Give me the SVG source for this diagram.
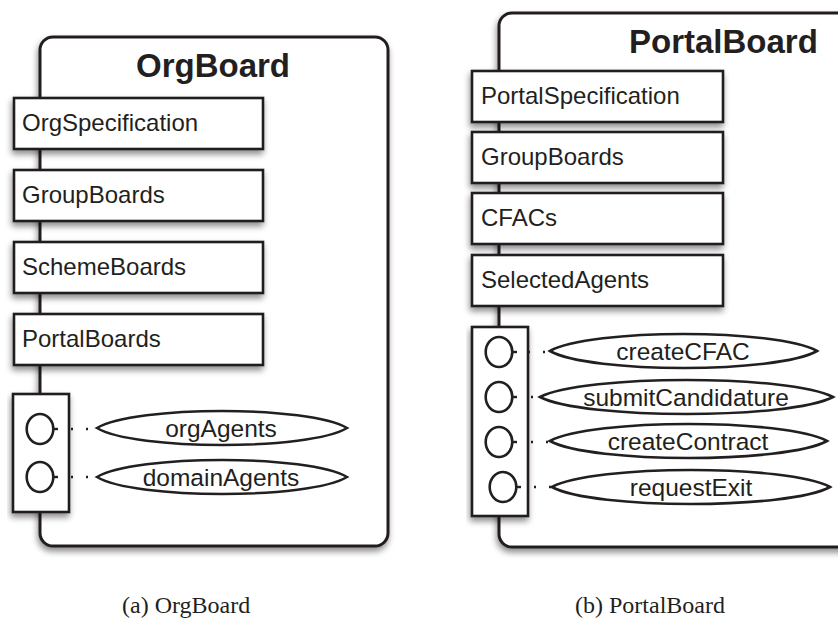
<svg xmlns="http://www.w3.org/2000/svg" width="838" height="631" viewBox="0 0 838 631">
<defs>
<filter id="sh" x="-10%" y="-10%" width="130%" height="140%">
<feDropShadow dx="-1" dy="4" stdDeviation="3" flood-color="#000" flood-opacity="0.45"/>
</filter>
<style>
.board{fill:#fff;stroke:#231f20;stroke-width:3;filter:url(#sh)}
.box{fill:#fff;stroke:#231f20;stroke-width:2.6;filter:url(#sh)}
.iface{fill:#fff;stroke:#231f20;stroke-width:2.6;filter:url(#sh)}
.port{fill:#fff;stroke:#231f20;stroke-width:2.6}
.tick{stroke:#231f20;stroke-width:2.4}
.op{fill:#fff;stroke:#231f20;stroke-width:2.6}
.title{font-family:"Liberation Sans",Arial,sans-serif;font-weight:bold;font-size:33px;fill:#231f20}
.lbl{font-family:"Liberation Sans",Arial,sans-serif;font-size:24px;fill:#231f20}
.olbl{font-family:"Liberation Sans",Arial,sans-serif;font-size:24.5px;fill:#231f20;text-anchor:middle}
.cap{font-family:"Liberation Serif","Times New Roman",serif;font-size:24px;fill:#231f20}
.dot{stroke:#231f20;stroke-width:2.4;stroke-dasharray:2 13;fill:none}
</style>
</defs>
<rect width="838" height="631" fill="#fff"/>

<g id="orgboard">
<rect class="board" x="40" y="37" width="348" height="509" rx="13"/>
<text class="title" x="213" y="77" text-anchor="middle">OrgBoard</text>
</g>
<g id="org-spec"><rect class="box" x="14" y="98" width="249" height="51"/><text class="lbl" x="22" y="131">OrgSpecification</text></g>
<g id="org-groupboards"><rect class="box" x="14" y="170" width="249" height="51"/><text class="lbl" x="22" y="203">GroupBoards</text></g>
<g id="org-schemeboards"><rect class="box" x="14" y="242" width="249" height="51"/><text class="lbl" x="22" y="275">SchemeBoards</text></g>
<g id="org-portalboards"><rect class="box" x="14" y="314" width="249" height="51"/><text class="lbl" x="22" y="347">PortalBoards</text></g>
<g id="org-interface">
<rect class="iface" x="13" y="394" width="56" height="118"/>
<ellipse class="port" cx="40" cy="429" rx="13.3" ry="15"/>
<line class="tick" x1="53" y1="429" x2="58" y2="429"/>
<ellipse class="port" cx="40" cy="477" rx="13.3" ry="15"/>
<line class="tick" x1="53" y1="477" x2="58" y2="477"/>
</g>
<g id="op-orgAgents"><path class="op" d="M97,428 C134.5,405.4 309.5,405.4 347,428 C309.5,450.6 134.5,450.6 97,428Z"/><text class="olbl" x="221" y="437">orgAgents</text></g>
<g id="op-domainAgents"><path class="op" d="M97,477 C134.5,454.4 309.5,454.4 347,477 C309.5,499.6 134.5,499.6 97,477Z"/><text class="olbl" x="221" y="486">domainAgents</text></g>

<g id="portalboard">
<rect class="board" x="499" y="13" width="370" height="534" rx="13"/>
<text class="title" x="629" y="53">PortalBoard</text>
</g>
<g id="portal-spec"><rect class="box" x="472" y="71" width="251" height="51"/><text class="lbl" x="481" y="104">PortalSpecification</text></g>
<g id="portal-groupboards"><rect class="box" x="472" y="132" width="251" height="51"/><text class="lbl" x="481" y="165">GroupBoards</text></g>
<g id="portal-cfacs"><rect class="box" x="472" y="193" width="251" height="51"/><text class="lbl" x="481" y="226">CFACs</text></g>
<g id="portal-selectedagents"><rect class="box" x="472" y="255" width="251" height="51"/><text class="lbl" x="481" y="288">SelectedAgents</text></g>
<g id="portal-interface">
<rect class="iface" x="472" y="327" width="56" height="189"/>
<ellipse class="port" cx="499" cy="352" rx="13.3" ry="15"/>
<line class="tick" x1="512" y1="352" x2="517" y2="352"/>
<ellipse class="port" cx="499" cy="397" rx="13.3" ry="15"/>
<line class="tick" x1="512" y1="397" x2="517" y2="397"/>
<ellipse class="port" cx="499" cy="442" rx="13.3" ry="15"/>
<line class="tick" x1="512" y1="442" x2="517" y2="442"/>
<ellipse class="port" cx="503" cy="487" rx="13.3" ry="15"/>
<line class="tick" x1="516" y1="487" x2="521" y2="487"/>
</g>
<g id="op-createCFAC"><path class="op" d="M550,351 C590,328.4 777,328.4 817,351 C777,373.6 590,373.6 550,351Z"/><text class="olbl" x="683" y="360">createCFAC</text></g>
<g id="op-submitCandidature"><path class="op" d="M540,397 C584,374.4 789,374.4 833,397 C789,419.6 584,419.6 540,397Z"/><text class="olbl" x="686" y="406">submitCandidature</text></g>
<g id="op-createContract"><path class="op" d="M550,441 C591.5,418.4 785.5,418.4 827,441 C785.5,463.6 591.5,463.6 550,441Z"/><text class="olbl" x="688" y="450">createContract</text></g>
<g id="op-requestExit"><path class="op" d="M552,487 C593.7,464.4 788.3,464.4 830,487 C788.3,509.6 593.7,509.6 552,487Z"/><text class="olbl" x="691" y="496">requestExit</text></g>

<g id="connectors">
<line class="dot" x1="71" y1="429" x2="97" y2="429"/>
<line class="dot" x1="71" y1="477" x2="97" y2="477"/>
<line class="dot" x1="528" y1="352" x2="550" y2="352"/>
<line class="dot" x1="531" y1="397" x2="540" y2="397"/>
<line class="dot" x1="531" y1="442" x2="550" y2="442"/>
<line class="dot" x1="534" y1="487" x2="552" y2="487"/>
</g>

<g id="captions">
<text class="cap" x="122" y="613">(a)  OrgBoard</text>
<text class="cap" x="575" y="613">(b)  PortalBoard</text>
</g>
</svg>
